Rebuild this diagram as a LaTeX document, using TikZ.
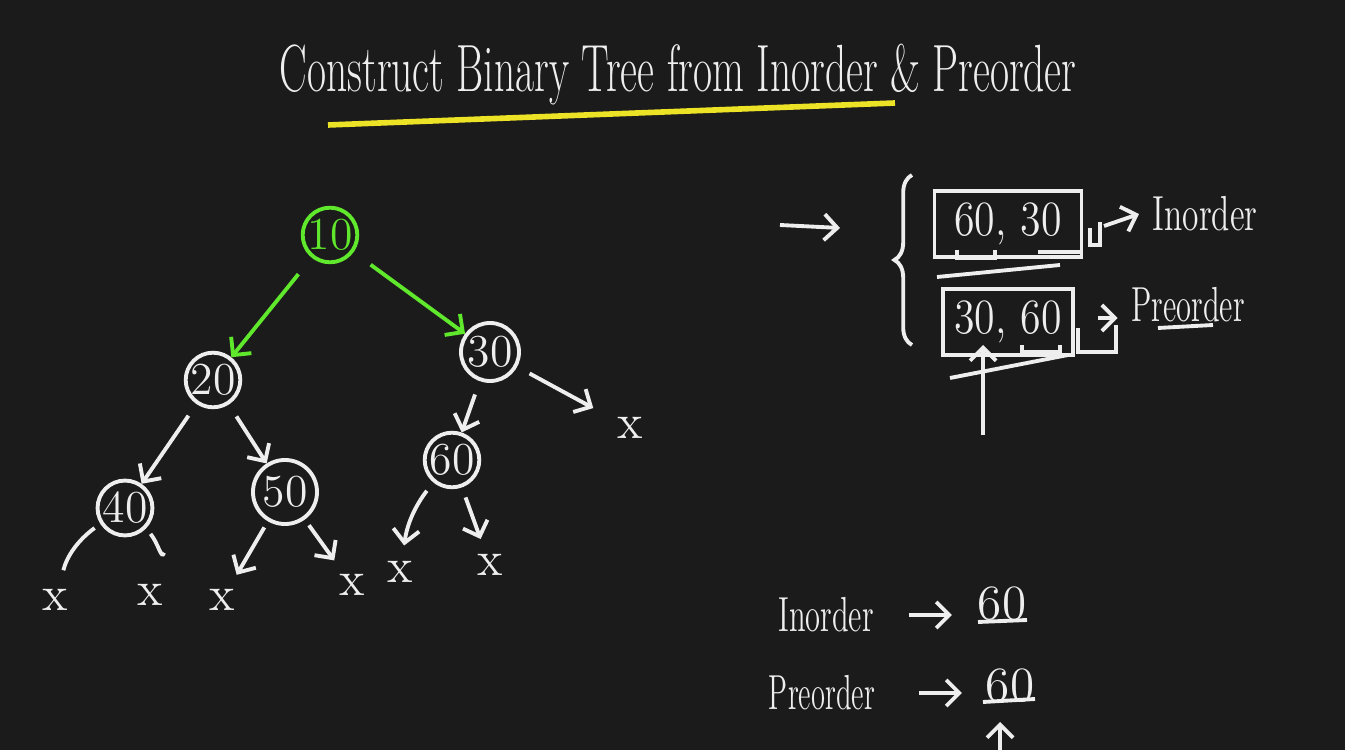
\documentclass[tikz,border=0pt]{standalone}
\usepackage{tikz}
\usetikzlibrary{positioning}
\usetikzlibrary{arrows.meta}
\usetikzlibrary{decorations.pathreplacing}
\definecolor{board}{RGB}{27,27,27}
\definecolor{chalk}{RGB}{238,238,238}
\definecolor{green}{RGB}{96,232,44}
\definecolor{yellow}{RGB}{236,226,38}
\newcommand{\chalkw}[2][0.68]{\scalebox{#1}[1]{#2}}

\begin{document}
\begin{tikzpicture}[x=0.01cm, y=-0.01cm, >=Straight Barb, chalk, line width=1.1pt,
    tnode/.style={draw, circle, minimum size=0.54cm, inner sep=0pt, font=\fontsize{13}{15}\selectfont},
    nul/.style={font=\fontsize{14}{16}\selectfont, inner sep=1pt},
    word/.style={font=\fontsize{14}{16}\selectfont}]
    % Board
    \fill[board] (0,0) rectangle (1345,750);

    % Title
    \node[font=\fontsize{19}{22}\selectfont] (title) at (678,75) {\chalkw[0.62]{Construct Binary Tree from Inorder \& Preorder}};
    \draw[yellow, line width=1.6pt] (328,125) -- (895,103);

    % Tree nodes
    \node[tnode, green] (n10) at (330,235) {10};
    \node[tnode] (n20) at (213,380) {20};
    \node[tnode, minimum size=0.58cm] (n30) at (490,352) {30};
    \node[tnode] (n40) at (125,508) {40};
    \node[tnode, minimum size=0.64cm] (n50) at (285,492) {50};
    \node[tnode, minimum size=0.5cm] (n60) at (452,460) {60};

    % Null children
    \foreach \name/\x/\y in {x1/55/600, x2/150/595, x3/222/600, x4/352/585, x5/400/572, x6/490/565, x7/630/428}
        \node[nul] (\name) at (\x,\y) {x};

    % Edges
    \draw[->, green, shorten <=6pt] (n10) -- (n20);
    \draw[->, green, shorten <=6pt] (n10) -- (n30);
    \draw[->, shorten <=4pt] (n20) -- (n40);
    \draw[->, shorten <=4pt] (n20) -- (n50);
    \draw[->, shorten <=4pt] (n30) -- (n60);
    \draw[->, shorten <=4pt, shorten >=6pt] (n30) -- (x7);
    \draw[shorten <=2pt, shorten >=4pt] (n40) to[bend right=20] (x1);
    \draw[shorten <=2pt, shorten >=8pt] (n40) to[bend left=30] (x2);
    \draw[->, shorten <=2pt, shorten >=3pt] (n50) -- (x3);
    \draw[->, shorten <=2pt, shorten >=3pt] (n50) -- (x4);
    \draw[->, shorten <=3pt, shorten >=3pt] (n60) to[bend right=15] (x5);
    \draw[->, shorten <=3pt, shorten >=3pt] (n60) -- (x6);

    % Left subtree call
    \coordinate (cue) at (780,225);
    \coordinate (cueend) at (840,228);
    \draw[->] (cue) -- (cueend);
    \draw[decorate, decoration={brace, amplitude=5pt}] (912,345) -- (912,175);

    \node[draw, minimum width=1.47cm, minimum height=0.66cm, word] (inbox) at (1008,224) {\chalkw[0.85]{60, 30}};
    \draw (937,277) -- (1060,265);
    \draw (957,250) |- (995,258) -- (995,250);
    \draw (1040,250) |- (1080,252);
    \draw (1090,228) |- (1100,245) -- (1100,222);
    \coordinate (inempty) at (1104,226);
    \node[word] (inlabel) at (1205,214) {\chalkw{Inorder}};
    \draw[->] (inempty) -- (inlabel.west);

    \node[draw, minimum width=1.2cm, minimum height=0.48cm, word] (prebox) at (1008,322) {\chalkw[0.85]{30, 60}};
    \draw (950,378) -- (1068,355);
    \draw (1022,345) |- (1060,352) -- (1060,345);
    \draw (1078,328) |- (1116,352) -- (1116,325);
    \coordinate (preempty) at (1098,318);
    \node[word] (prelabel) at (1188,305) {\chalkw[0.62]{Preorder}};
    \draw (1158,328) -- (1213,325);
    \draw[->] (preempty) -- (preempty -| prelabel.west);

    \coordinate (ptr1) at (983,435);
    \coordinate (ptr1end) at (983,345);
    \draw[->] (ptr1) -- (ptr1end);

    % Remaining single values
    \node[word] (inlbl) at (826,615) {\chalkw[0.62]{Inorder}};
    \node[word] (inval) at (1002,604) {60};
    \draw[->, shorten <=0.22cm, shorten >=0.5cm] (inlbl) -- (inlbl -| inval);
    \draw (978,622) -- (1027,620);

    \node[word] (prelbl) at (822,693) {\chalkw[0.58]{Preorder}};
    \node[word] (preval) at (1010,686) {60};
    \draw[->, shorten <=0.3cm, shorten >=0.48cm] (prelbl) -- (prelbl -| preval);
    \draw (983,702) -- (1035,699);
    \coordinate (ptr2) at (1000,750);
    \coordinate (ptr2end) at (1000,722);
    \draw[->] (ptr2) -- (ptr2end);
\end{tikzpicture}
\end{document}
